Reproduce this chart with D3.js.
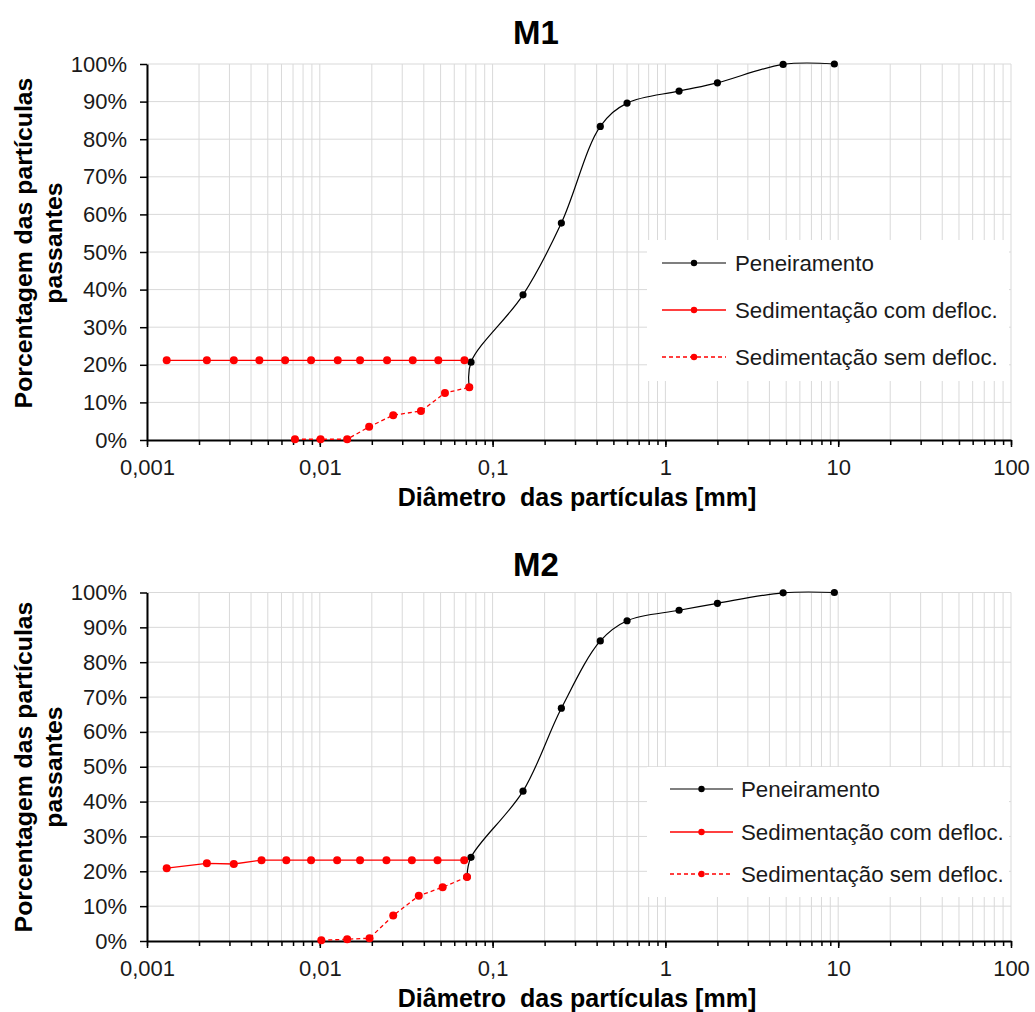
<!DOCTYPE html>
<html>
<head>
<meta charset="utf-8">
<script src="https://cdn.jsdelivr.net/npm/d3@7"></script>
<style>
  html, body { margin: 0; padding: 0; background: #fff; }
  svg { display: block; font-family: "Liberation Sans", Arial, sans-serif; }
  .pre { white-space: pre; }
</style>
</head>
<body>
<svg id="chart" width="1035" height="1012"></svg>
<script>
// ---- Data: particle size distribution (diameter in mm, % passing) ----
const seriesNames = ["Peneiramento", "Sedimentação com defloc.", "Sedimentação sem defloc."];
const xTickLabels = ["0,001", "0,01", "0,1", "1", "10", "100"];
const yTickValues = [0, 10, 20, 30, 40, 50, 60, 70, 80, 90, 100];

// Sieve analysis: the curve starts at the finest sedimentation point
const m1SieveDiam = [0.0733, 0.075, 0.15, 0.25, 0.42, 0.6, 1.2, 2.0, 4.8, 9.5];
const m1SievePct  = [14.0, 20.7, 38.6, 57.7, 83.4, 89.6, 92.8, 95.0, 99.9, 100];
const m1ComDiam   = [0.0013, 0.00222, 0.00318, 0.00447, 0.0063, 0.0089, 0.0127, 0.0171, 0.0245, 0.0345, 0.0485, 0.0687];
const m1ComPct    = [21.2, 21.2, 21.2, 21.2, 21.2, 21.2, 21.2, 21.2, 21.2, 21.2, 21.2, 21.2];
const m1SemDiam   = [0.00718, 0.0101, 0.0144, 0.0193, 0.0266, 0.0385, 0.0530, 0.0733];
const m1SemPct    = [0.2, 0.2, 0.2, 3.5, 6.6, 7.7, 12.5, 14.0];

const m2SieveDiam = [0.0711, 0.075, 0.15, 0.25, 0.42, 0.6, 1.2, 2.0, 4.8, 9.5];
const m2SievePct  = [18.4, 24.0, 43.0, 66.8, 86.1, 91.9, 94.9, 96.9, 99.9, 100];
const m2ComDiam   = [0.0013, 0.00222, 0.00318, 0.0046, 0.0064, 0.0089, 0.0126, 0.0171, 0.0243, 0.0341, 0.048, 0.0685];
const m2ComPct    = [20.9, 22.3, 22.1, 23.2, 23.2, 23.2, 23.2, 23.2, 23.2, 23.2, 23.2, 23.2];
const m2SemDiam   = [0.0102, 0.0144, 0.0194, 0.0266, 0.0374, 0.0514, 0.0711];
const m2SemPct    = [0.2, 0.5, 0.8, 7.3, 13.0, 15.4, 18.4];

const zip = (xs, ys) => xs.map((x, i) => ({ x, y: ys[i] }));

// ---- Layout of the two panels ----
const panels = [
  {
    title: "M1",
    series: [zip(m1SieveDiam, m1SievePct), zip(m1ComDiam, m1ComPct), zip(m1SemDiam, m1SemPct)],
    top: 64, bottom: 440, titleY: 44, tickLabelY: 475, axisTitleY: 506, yTitleCenter: 243,
    legend: { x: 647, y: 240, w: 362, h: 141, rows: [263, 310, 357], lx0: 662, lx1: 726, tx: 735 }
  },
  {
    title: "M2",
    series: [zip(m2SieveDiam, m2SievePct), zip(m2ComDiam, m2ComPct), zip(m2SemDiam, m2SemPct)],
    top: 592.5, bottom: 941, titleY: 576, tickLabelY: 976, axisTitleY: 1007, yTitleCenter: 767,
    legend: { x: 647, y: 767, w: 362, h: 130, rows: [789, 832, 874], lx0: 670, lx1: 733, tx: 741 }
  }
];

const styles = [
  { color: "#000000", dash: null, width: 1.2, r: 3.6, curve: d3.curveCatmullRom.alpha(0.5) },
  { color: "#ff0000", dash: null, width: 1.3, r: 4, curve: d3.curveLinear },
  { color: "#ff0000", dash: "4,3", width: 1.3, r: 4, curve: d3.curveLinear }
];

const svg = d3.select("#chart");
const x = d3.scaleLog().domain([0.001, 100]).range([147, 1011]);

// every tick position 1..9 × 10^k across the domain
const minorVals = [];
for (let e = -3; e < 2; e++) for (let m = 1; m <= 9; m++) minorVals.push(m * Math.pow(10, e));
minorVals.push(100);
const majorVals = [0.001, 0.01, 0.1, 1, 10, 100];

panels.forEach(p => {
  const y = d3.scaleLinear().domain([0, 100]).range([p.bottom, p.top]);
  const g = svg.append("g");

  // grid
  g.append("g").selectAll("line.v").data(minorVals).join("line")
    .attr("x1", d => x(d)).attr("x2", d => x(d))
    .attr("y1", p.top).attr("y2", p.bottom)
    .attr("stroke", "#d9d9d9").attr("stroke-width", 1);
  g.append("g").selectAll("line.h").data(yTickValues.slice(1)).join("line")
    .attr("x1", x.range()[0]).attr("x2", x.range()[1])
    .attr("y1", d => y(d)).attr("y2", d => y(d))
    .attr("stroke", "#d9d9d9").attr("stroke-width", 1);

  // legend background hides the grid behind it
  const L = p.legend;
  g.append("rect").attr("x", L.x).attr("y", L.y).attr("width", L.w).attr("height", L.h).attr("fill", "#fff");

  // x axis: minor ticks, then labelled decades
  const xAxisMinor = d3.axisBottom(x).tickValues(minorVals).tickSize(5).tickFormat("");
  const gxm = g.append("g").attr("transform", `translate(0,${p.bottom})`).call(xAxisMinor);
  gxm.select(".domain").remove();
  gxm.selectAll(".tick line").attr("stroke", "#000").attr("stroke-width", 1.5);

  const xAxis = d3.axisBottom(x).tickValues(majorVals).tickSize(7).tickSizeOuter(0)
    .tickFormat((d, i) => xTickLabels[i]);
  const gx = g.append("g").attr("transform", `translate(0,${p.bottom})`).call(xAxis);
  gx.select(".domain").attr("stroke", "#000").attr("stroke-width", 2);
  gx.selectAll(".tick line").attr("stroke", "#000").attr("stroke-width", 1.5);
  gx.selectAll(".tick text").attr("font-size", 22).attr("fill", "#1a1a1a")
    .attr("dy", null).attr("y", p.tickLabelY - p.bottom);

  // y axis
  const yAxis = d3.axisLeft(y).tickValues(yTickValues).tickSize(7).tickSizeOuter(0)
    .tickFormat(d => d + "%");
  const gy = g.append("g").attr("transform", `translate(${x.range()[0]},0)`).call(yAxis);
  gy.select(".domain").attr("stroke", "#000").attr("stroke-width", 2);
  gy.selectAll(".tick line").attr("stroke", "#000").attr("stroke-width", 1.5);
  gy.selectAll(".tick text").attr("font-size", 22).attr("fill", "#1a1a1a").attr("x", -20);

  // series
  p.series.forEach((data, i) => {
    const s = styles[i];
    const line = d3.line().x(d => x(d.x)).y(d => y(d.y)).curve(s.curve);
    g.append("path").datum(data).attr("d", line)
      .attr("fill", "none").attr("stroke", s.color).attr("stroke-width", s.width)
      .attr("stroke-dasharray", s.dash);
    g.append("g").selectAll("circle").data(data).join("circle")
      .attr("cx", d => x(d.x)).attr("cy", d => y(d.y)).attr("r", s.r).attr("fill", s.color);
  });

  // legend entries
  seriesNames.forEach((name, i) => {
    const s = styles[i];
    const ry = L.rows[i];
    g.append("line").attr("x1", L.lx0).attr("x2", L.lx1).attr("y1", ry).attr("y2", ry)
      .attr("stroke", s.color).attr("stroke-width", s.width).attr("stroke-dasharray", s.dash);
    g.append("circle").attr("cx", (L.lx0 + L.lx1) / 2).attr("cy", ry).attr("r", 3.2).attr("fill", s.color);
    g.append("text").attr("x", L.tx).attr("y", ry).attr("dy", "0.35em")
      .attr("font-size", 22.3).attr("fill", "#1a1a1a").text(name);
  });

  // titles
  g.append("text").attr("x", 536).attr("y", p.titleY).attr("text-anchor", "middle")
    .attr("font-size", 33).attr("font-weight", "bold").attr("fill", "#000").text(p.title);
  g.append("text").attr("class", "pre").attr("x", 577).attr("y", p.axisTitleY).attr("text-anchor", "middle")
    .attr("font-size", 25).attr("font-weight", "bold").attr("fill", "#000")
    .text("Diâmetro  das partículas [mm]");
  const yt = g.append("text").attr("transform", `translate(0,${p.yTitleCenter}) rotate(-90)`)
    .attr("text-anchor", "middle").attr("font-size", 24.8).attr("font-weight", "bold").attr("fill", "#000");
  yt.append("tspan").attr("x", 0).attr("y", 32).text("Porcentagem das partículas");
  yt.append("tspan").attr("x", 0).attr("y", 62).text("passantes");
});
</script>
</body>
</html>
